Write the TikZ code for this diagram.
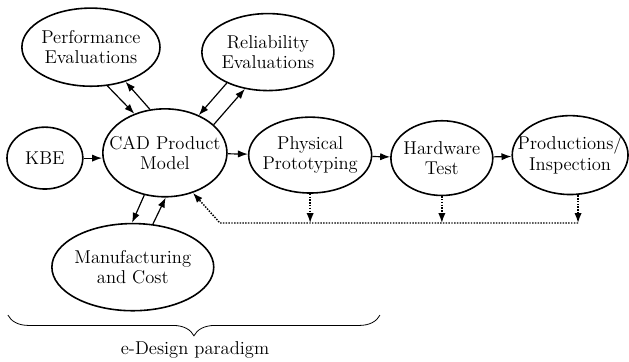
\documentclass[tikz,border=0pt]{standalone}
\usepackage{amsmath, amssymb}
\usetikzlibrary{shapes.geometric, arrows.meta, decorations.pathreplacing}

\begin{document}
\begin{tikzpicture}[every node/.style={font=\fontsize{14}{15.5}\selectfont},
    blob/.style={ellipse, draw, line width=1.2pt, align=center, inner xsep=-12pt, inner ysep=-4pt},
    link/.style={-{Latex[length=7.5pt, width=5.5pt]}, line width=0.9pt},
    feedback/.style={-{Latex[length=7.5pt, width=5.5pt]}, densely dotted, line width=1.1pt}]
    \useasboundingbox (0,0) rectangle (16.67,-9.57);

    \node[blob, minimum width=3.66cm, minimum height=2.07cm]
      (perf) at (2.41,-1.25) {Performance\\Evaluations};
    \node[blob, minimum width=3.50cm, minimum height=2.04cm]
      (rel) at (7.10,-1.38) {Reliability\\Evaluations};
    \node[blob, minimum width=2.01cm, minimum height=1.64cm]
      (kbe) at (1.19,-4.19) {KBE};
    \node[blob, minimum width=3.29cm, minimum height=2.33cm]
      (cad) at (4.37,-4.05) {CAD Product\\Model};
    \node[blob, minimum width=3.26cm, minimum height=2.01cm]
      (phys) at (8.22,-4.11) {Physical\\Prototyping};
    \node[blob, minimum width=2.70cm, minimum height=1.98cm]
      (hw) at (11.71,-4.19) {Hardware\\Test};
    \node[blob, minimum width=3.07cm, minimum height=2.09cm]
      (prod) at (15.11,-4.11) {Productions/\\Inspection};
    \node[blob, minimum width=4.29cm, minimum height=2.31cm]
      (manuf) at (3.52,-7.08) {Manufacturing\\and Cost};

    % main flow
    \draw[link] (kbe.east) -- (kbe.east -| cad.west);
    \draw[link] (cad) -- (phys);
    \draw[link] (phys) -- (hw);
    \draw[link] (hw) -- (prod);

    % evaluation loops
    \draw[link] (perf.-67) -- (cad.128);
    \draw[link] (cad.109) -- (perf.-45);
    \draw[link] (rel.217) -- (cad.48);
    \draw[link] (cad.30) -- (rel.238);
    \draw[link] (cad.244) -- (manuf.91);
    \draw[link] (manuf.65) -- (cad.271);

    % feedback from the test stages
    \coordinate (fbL) at (5.83,-5.91);
    \coordinate (fbR) at (15.32,-5.91);
    \draw[feedback] (phys.south) -- (phys.south |- fbL);
    \draw[feedback] (hw.south) -- (hw.south |- fbL);
    \draw[feedback] (prod.south -| fbR) -- (fbR);
    \draw[feedback] (fbR) -- (fbL) -- (cad.-55);

    % e-Design bracket
    \coordinate (brL) at (0.21,-8.35);
    \coordinate (brR) at (10.07,-8.35);
    \draw[decorate, decoration={brace, mirror, amplitude=0.55cm}, line width=0.6pt]
      (brL) -- (brR);
    \node (paradigm) at (5.17,-9.27) {e-Design paradigm};
\end{tikzpicture}
\end{document}
